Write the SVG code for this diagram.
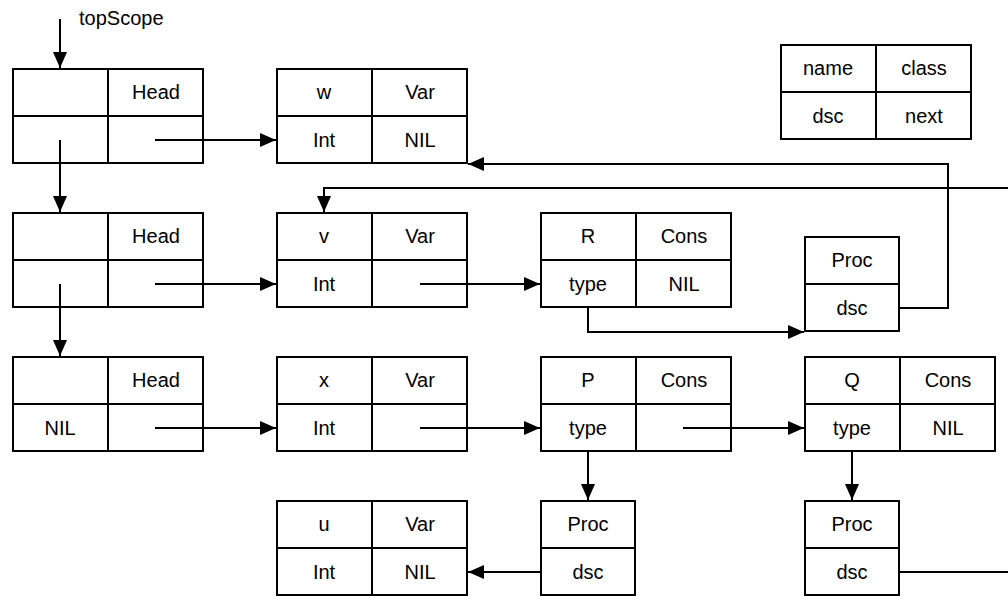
<svg xmlns="http://www.w3.org/2000/svg" width="1008" height="596" viewBox="0 0 1008 596">
<style>
  .box { fill: #ffffff; stroke: #000000; stroke-width: 2; }
  .div { stroke: #000000; stroke-width: 2; fill: none; }
  .t { font-family: "Liberation Sans", Arial, sans-serif; font-size: 20px; fill: #000000; text-anchor: middle; }
  .lbl { font-family: "Liberation Sans", Arial, sans-serif; font-size: 20px; fill: #000000; }
  .c { stroke: #000000; stroke-width: 2; fill: none; }
  .ca { stroke: #000000; stroke-width: 2; fill: none; marker-end: url(#ah); }
</style>
<defs>
  <marker id="ah" markerUnits="userSpaceOnUse" markerWidth="16" markerHeight="14" refX="16" refY="7" orient="auto">
    <path d="M0,0 L16,7 L0,14 Z" fill="#000000"/>
  </marker>
</defs>
<rect x="0" y="0" width="1008" height="596" fill="#ffffff"/>

<g id="legend">
  <rect class="box" x="781" y="45" width="190" height="94"/>
  <path class="div" d="M876,45 V139 M781,92 H971"/>
  <text class="t" x="828" y="75">name</text>
  <text class="t" x="924" y="75">class</text>
  <text class="t" x="828" y="123">dsc</text>
  <text class="t" x="924" y="123">next</text>
</g>

<g id="head1">
  <rect class="box" x="13" y="69" width="190" height="94"/>
  <path class="div" d="M108,69 V163 M13,116 H203"/>
  <text class="t" x="156" y="99">Head</text>
</g>
<g id="w">
  <rect class="box" x="277" y="69" width="190" height="94"/>
  <path class="div" d="M372,69 V163 M277,116 H467"/>
  <text class="t" x="324" y="99">w</text>
  <text class="t" x="420" y="99">Var</text>
  <text class="t" x="324" y="147">Int</text>
  <text class="t" x="420" y="147">NIL</text>
</g>

<g id="head2">
  <rect class="box" x="13" y="213" width="190" height="94"/>
  <path class="div" d="M108,213 V307 M13,260 H203"/>
  <text class="t" x="156" y="243">Head</text>
</g>
<g id="v">
  <rect class="box" x="277" y="213" width="190" height="94"/>
  <path class="div" d="M372,213 V307 M277,260 H467"/>
  <text class="t" x="324" y="243">v</text>
  <text class="t" x="420" y="243">Var</text>
  <text class="t" x="324" y="291">Int</text>
</g>
<g id="R">
  <rect class="box" x="541" y="213" width="190" height="94"/>
  <path class="div" d="M636,213 V307 M541,260 H731"/>
  <text class="t" x="588" y="243">R</text>
  <text class="t" x="684" y="243">Cons</text>
  <text class="t" x="588" y="291">type</text>
  <text class="t" x="684" y="291">NIL</text>
</g>
<g id="procR">
  <rect class="box" x="805" y="237" width="94" height="94"/>
  <path class="div" d="M805,284 H899"/>
  <text class="t" x="852" y="267">Proc</text>
  <text class="t" x="852" y="315">dsc</text>
</g>

<g id="head3">
  <rect class="box" x="13" y="357" width="190" height="94"/>
  <path class="div" d="M108,357 V451 M13,404 H203"/>
  <text class="t" x="156" y="387">Head</text>
  <text class="t" x="60" y="435">NIL</text>
</g>
<g id="x">
  <rect class="box" x="277" y="357" width="190" height="94"/>
  <path class="div" d="M372,357 V451 M277,404 H467"/>
  <text class="t" x="324" y="387">x</text>
  <text class="t" x="420" y="387">Var</text>
  <text class="t" x="324" y="435">Int</text>
</g>
<g id="P">
  <rect class="box" x="541" y="357" width="190" height="94"/>
  <path class="div" d="M636,357 V451 M541,404 H731"/>
  <text class="t" x="588" y="387">P</text>
  <text class="t" x="684" y="387">Cons</text>
  <text class="t" x="588" y="435">type</text>
</g>
<g id="Q">
  <rect class="box" x="805" y="357" width="190" height="94"/>
  <path class="div" d="M900,357 V451 M805,404 H995"/>
  <text class="t" x="852" y="387">Q</text>
  <text class="t" x="948" y="387">Cons</text>
  <text class="t" x="852" y="435">type</text>
  <text class="t" x="948" y="435">NIL</text>
</g>

<g id="u">
  <rect class="box" x="277" y="501" width="190" height="94"/>
  <path class="div" d="M372,501 V595 M277,548 H467"/>
  <text class="t" x="324" y="531">u</text>
  <text class="t" x="420" y="531">Var</text>
  <text class="t" x="324" y="579">Int</text>
  <text class="t" x="420" y="579">NIL</text>
</g>
<g id="procP">
  <rect class="box" x="541" y="501" width="94" height="94"/>
  <path class="div" d="M541,548 H635"/>
  <text class="t" x="588" y="531">Proc</text>
  <text class="t" x="588" y="579">dsc</text>
</g>
<g id="procQ">
  <rect class="box" x="805" y="501" width="94" height="94"/>
  <path class="div" d="M805,548 H899"/>
  <text class="t" x="852" y="531">Proc</text>
  <text class="t" x="852" y="579">dsc</text>
</g>

<g id="topScope">
  <text class="lbl" x="79" y="25">topScope</text>
</g>

<g id="connectors">
  <path class="ca" d="M60,19 V68"/>
  <path class="ca" d="M60,140 V212"/>
  <path class="ca" d="M60,284 V356"/>
  <path class="ca" d="M155,140 H276"/>
  <path class="ca" d="M155,284 H276"/>
  <path class="ca" d="M155,428 H276"/>
  <path class="ca" d="M420,284 H540"/>
  <path class="ca" d="M420,428 H540"/>
  <path class="ca" d="M683,428 H804"/>
  <path class="ca" d="M588,308 V332 H804"/>
  <path class="ca" d="M900,308 H948 V164 H468"/>
  <path class="ca" d="M1008,188 H324 V212"/>
  <path class="ca" d="M588,452 V500"/>
  <path class="ca" d="M852,452 V500"/>
  <path class="ca" d="M540,572 H468"/>
  <path class="c" d="M900,572 H1008"/>
</g>
</svg>
